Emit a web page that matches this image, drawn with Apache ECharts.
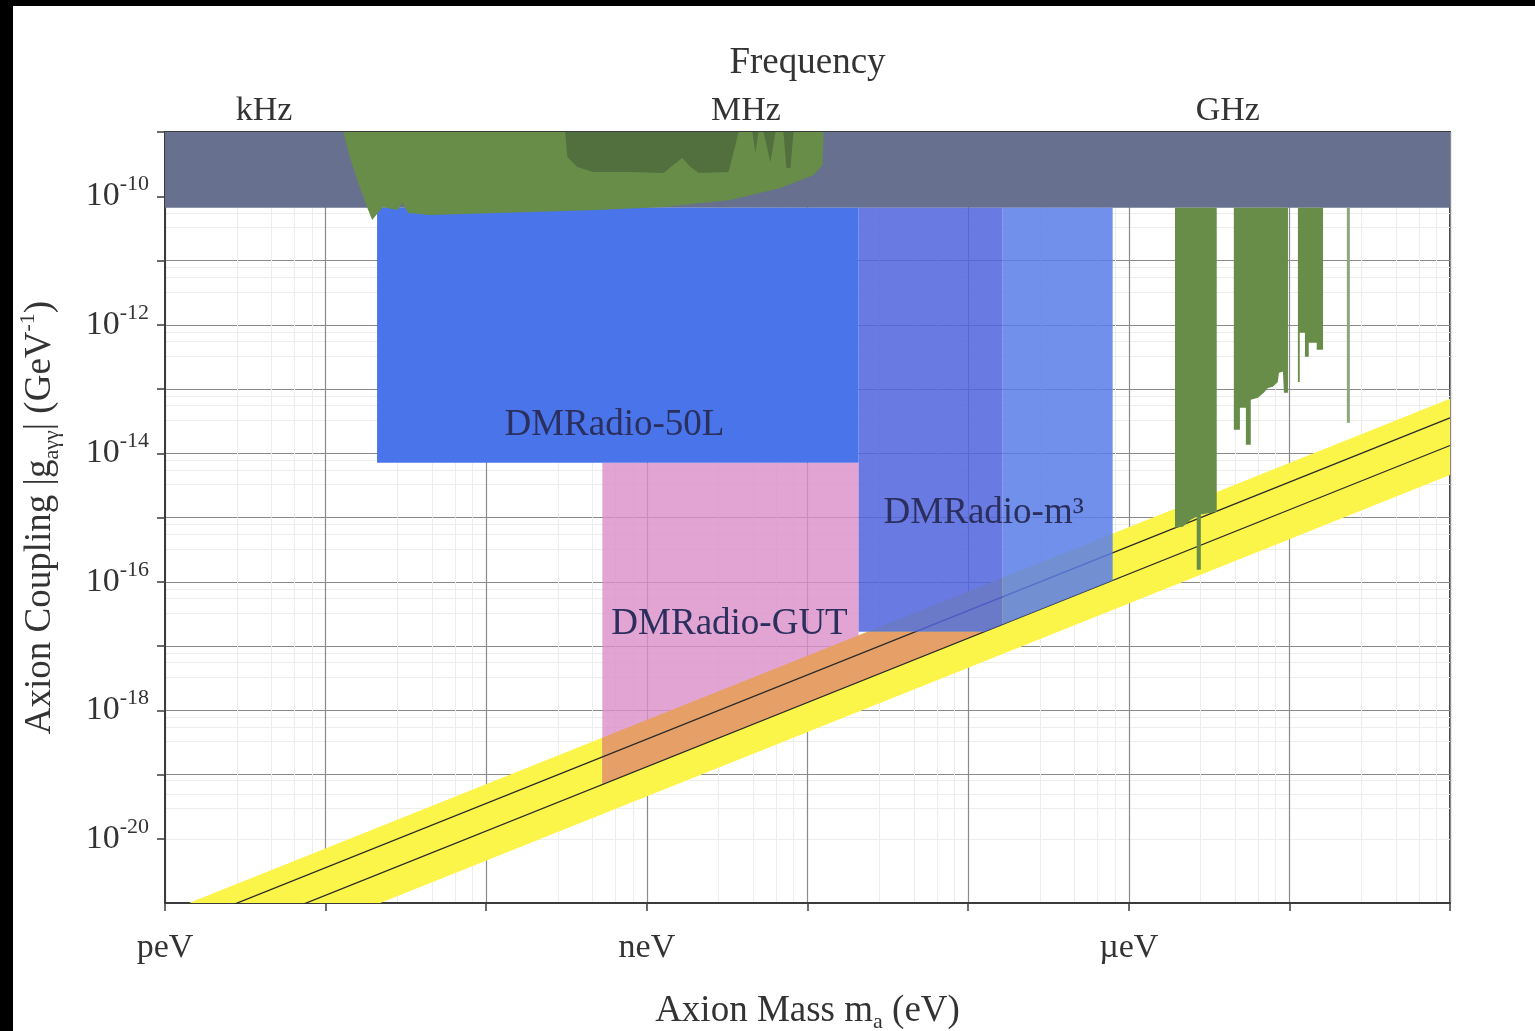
<!DOCTYPE html>
<html>
<head>
<meta charset="utf-8">
<script src="https://cdn.jsdelivr.net/npm/echarts@6/dist/echarts.min.js"></script>
<style>
  html, body { margin: 0; padding: 0; background: #000; }
  #chart { position: absolute; left: 13px; top: 6px; width: 1522px; height: 1025px; background: #fff; }
</style>
</head>
<body>
<div id="chart"></div>
<script>
// ---------- data (axion mass in eV, coupling in GeV^-1) ----------
const massTickExp = [-12, -9, -6];
const massTickLabels = ['peV', 'neV', 'µeV'];
const freqTickLog = [3, 6, 9];            // log10(frequency / Hz)
const freqTickLabels = ['kHz', 'MHz', 'GHz'];
const couplingTickExp = [-10, -12, -14, -16, -18, -20];

const castLimit = [[1e-12, 1e-9], [1e-4, 1e-9], [1e-4, 6.6e-11], [1e-12, 6.6e-11]];

const qcdBand = [[1e-12, 7.08e-22], [1e-4, 7.08e-14], [1e-4, 4.57e-15], [1e-12, 4.57e-23]];
const ksvzLine = [[1e-12, 3.55e-22], [1e-4, 3.55e-14]];
const dfszLine = [[1e-12, 1.32e-22], [1e-4, 1.32e-14]];

const dmradio50L = [[2.09e-11, 6.6e-11], [2.08e-8, 6.6e-11], [2.08e-8, 7.11e-15], [2.09e-11, 7.11e-15]];
const dmradioGUT = [[5.28e-10, 7.11e-15], [2.08e-8, 7.11e-15], [2.08e-8, 2.74e-18], [5.28e-10, 6.97e-20]];
const gutInBand = [[5.28e-10, 3.74e-19], [2.37e-8, 1.67e-17], [1.27e-7, 1.67e-17], [5.28e-10, 6.97e-20]];
const dmradioM3a = [[2.08e-8, 6.6e-11], [1.64e-7, 6.6e-11], [1.64e-7, 2.16e-17], [1.27e-7, 1.67e-17], [2.08e-8, 1.67e-17]];
const dmradioM3b = [[1.64e-7, 6.6e-11], [7.94e-7, 6.6e-11], [7.94e-7, 1.05e-16], [1.64e-7, 2.16e-17]];

const lowMassLimit = [
  [1.29e-11, 1e-9], [1.42e-11, 3.94e-10], [1.59e-11, 1.67e-10], [1.82e-11, 6.58e-11],
  [1.95e-11, 4.28e-11], [2.09e-11, 5.31e-11], [2.28e-11, 6.82e-11], [2.79e-11, 6.12e-11],
  [3.00e-11, 7.87e-11], [3.27e-11, 5.50e-11], [4.48e-11, 5.12e-11], [7.19e-11, 5.31e-11],
  [1.88e-10, 5.70e-11], [4.92e-10, 6.12e-11], [1.27e-9, 6.82e-11], [3.31e-9, 8.75e-11],
  [6.79e-9, 1.35e-10], [1.09e-8, 2.14e-10], [1.24e-8, 3.07e-10], [1.26e-8, 1e-9]
];
const lowMassLimitDark = [
  [3.10e-10, 1e-9], [3.20e-10, 4.08e-10], [3.69e-10, 2.86e-10], [4.65e-10, 2.39e-10],
  [7.88e-10, 2.39e-10], [1.27e-9, 2.30e-10], [1.46e-9, 3.07e-10], [1.66e-9, 3.94e-10],
  [1.87e-9, 2.86e-10], [2.10e-9, 2.30e-10], [3.22e-9, 2.39e-10], [3.56e-9, 6.28e-10],
  [3.72e-9, 1e-9], [4.54e-9, 1e-9], [4.74e-9, 4.71e-10], [4.95e-9, 1e-9],
  [5.32e-9, 1e-9], [5.87e-9, 3.41e-10], [6.32e-9, 1e-9], [7.08e-9, 1e-9],
  [7.40e-9, 2.75e-10], [7.83e-9, 2.75e-10], [8.18e-9, 1e-9]
];
const haloscopeA = [
  [1.94e-6, 6.6e-11], [1.94e-6, 6.93e-16], [2.17e-6, 7.19e-16], [2.43e-6, 9.24e-16],
  [2.65e-6, 1.03e-15], [2.65e-6, 1.54e-16], [2.81e-6, 1.54e-16], [2.81e-6, 1.11e-15],
  [3.53e-6, 1.23e-15], [3.53e-6, 6.6e-11]
];
const haloscopeB = [
  [4.51e-6, 6.6e-11], [4.51e-6, 2.32e-14], [4.92e-6, 2.32e-14], [4.92e-6, 5.11e-14],
  [5.36e-6, 5.11e-14], [5.36e-6, 1.36e-14], [5.75e-6, 1.36e-14], [5.75e-6, 6.79e-14],
  [6.37e-6, 7.30e-14], [6.93e-6, 8.73e-14], [7.35e-6, 1.04e-13], [7.89e-6, 1.08e-13],
  [8.47e-6, 1.29e-13], [8.61e-6, 1.79e-13], [9.12e-6, 1.85e-13], [9.25e-6, 8.73e-14],
  [9.80e-6, 8.73e-14], [9.80e-6, 6.6e-11]
];
const haloscopeC = [
  [1.13e-5, 6.6e-11], [1.13e-5, 1.29e-13], [1.16e-5, 1.29e-13], [1.16e-5, 7.48e-13],
  [1.25e-5, 7.48e-13], [1.25e-5, 3.17e-13], [1.32e-5, 3.17e-13], [1.32e-5, 5.24e-13],
  [1.48e-5, 5.24e-13], [1.48e-5, 4.07e-13], [1.62e-5, 4.07e-13], [1.62e-5, 6.6e-11]
];
const haloscopeD = [[2.28e-5, 6.6e-11], [2.38e-5, 6.6e-11], [2.38e-5, 2.98e-14], [2.28e-5, 2.98e-14]];

const regionLabelNames = ['DMRadio-50L', 'DMRadio-m³', 'DMRadio-GUT'];
const regionLabelPos = [[6.28e-10, 2.77e-14], [1.25e-7, 1.15e-15], [3.27e-9, 2.15e-17]];

// ---------- chart ----------
const FONT = 'Liberation Serif, DejaVu Serif, serif';
const TXT = '#333333';

function polygonSeries(name, pts, color, opacity, z) {
  return {
    type: 'custom', name: name, coordinateSystem: 'cartesian2d',
    xAxisIndex: 0, yAxisIndex: 0, data: pts, clip: true, z: z, silent: true,
    renderItem: function (params, api) {
      if (params.dataIndex !== 0) return null;
      const points = pts.map(p => api.coord(p));
      return { type: 'polygon', shape: { points: points }, style: { fill: color, opacity: opacity } };
    }
  };
}

const chart = echarts.init(document.getElementById('chart'), null, { renderer: 'canvas' });

const option = {
  backgroundColor: '#ffffff',
  animation: false,
  grid: { left: 152, right: 85, top: 126, bottom: 128, show: true, backgroundColor: '#ffffff',
          borderColor: '#3c3c3c', borderWidth: 2, containLabel: false, outerBoundsMode: 'none' },
  xAxis: [
    {
      type: 'log', logBase: 10, min: 1e-12, max: 1e-4, position: 'bottom', splitNumber: 8,
      axisLine: { show: true, lineStyle: { color: '#3c3c3c', width: 2 } },
      axisTick: { show: true, length: 8, lineStyle: { color: '#3c3c3c', width: 1.5 } },
      axisLabel: {
        margin: 28, fontFamily: FONT, fontSize: 34, color: TXT,
        formatter: function (v) {
          const e = Math.round(Math.log10(v));
          const i = massTickExp.indexOf(e);
          return i >= 0 ? massTickLabels[i] : '';
        }
      },
      splitLine: { show: true, lineStyle: { color: '#8a8a8a', width: 1.2 } },
      minorTick: { show: false, splitNumber: 5 },
      minorSplitLine: { show: true, lineStyle: { color: '#ededed', width: 1 } },
      name: 'Axion Mass m{sub|a} (eV)', nameLocation: 'middle', nameGap: 86, nameMoveOverlap: false,
      nameTextStyle: { fontFamily: FONT, fontSize: 37, color: TXT, lineHeight: 44,
        rich: { sub: { fontFamily: FONT, fontSize: 22, color: TXT, verticalAlign: 'bottom' } } }
    },
    {
      type: 'value', position: 'top', min: 2.3835, max: 10.3835,
      axisLine: { show: false }, axisTick: { show: false }, splitLine: { show: false },
      axisLabel: {
        show: true, customValues: freqTickLog, margin: 4, fontFamily: FONT, fontSize: 34, color: TXT,
        formatter: function (v) {
          const i = freqTickLog.indexOf(Math.round(v));
          return i >= 0 ? freqTickLabels[i] : '';
        }
      },
      name: 'Frequency', nameLocation: 'middle', nameGap: 50, nameMoveOverlap: false,
      nameTextStyle: { fontFamily: FONT, fontSize: 37, color: TXT }
    }
  ],
  yAxis: {
    type: 'log', logBase: 10, min: 1e-21, max: 1e-9, interval: 1,
    axisLine: { show: true, lineStyle: { color: '#3c3c3c', width: 2 } },
    axisTick: { show: true, length: 8, lineStyle: { color: '#3c3c3c', width: 1.5 } },
    axisLabel: {
      margin: 16, color: TXT,
      formatter: function (v) {
        const e = Math.round(Math.log10(v));
        return couplingTickExp.indexOf(e) >= 0 ? '{b|10}{s|' + e + '}' : '';
      },
      rich: {
        b: { fontFamily: FONT, fontSize: 34, color: TXT, lineHeight: 46 },
        s: { fontFamily: FONT, fontSize: 22, color: TXT, verticalAlign: 'top' }
      }
    },
    splitLine: { show: true, lineStyle: { color: '#8a8a8a', width: 1.2 } },
    minorTick: { show: false, splitNumber: 4 },
    minorSplitLine: { show: true, lineStyle: { color: '#ededed', width: 1 } },
    name: 'Axion Coupling |g{sub|aγγ}| (GeV{sup|-1})', nameLocation: 'middle', nameGap: 102, nameRotate: 90,
    nameMoveOverlap: false,
    nameTextStyle: { fontFamily: FONT, fontSize: 37, color: TXT, lineHeight: 46,
      rich: {
        sub: { fontFamily: FONT, fontSize: 22, color: TXT, verticalAlign: 'bottom' },
        sup: { fontFamily: FONT, fontSize: 22, color: TXT, verticalAlign: 'top' }
      } }
  },
  series: [
    polygonSeries('CAST', castLimit, '#67708e', 1, 1),
    polygonSeries('QCD band', qcdBand, '#fbf54a', 1, 2),
    polygonSeries('DMRadio-GUT', dmradioGUT, '#db8dc7', 0.8, 3),
    polygonSeries('GUT in band', gutInBand, '#e6a067', 1, 4),
    {
      type: 'line', name: 'KSVZ', data: ksvzLine, symbol: 'none', z: 5, silent: true,
      lineStyle: { color: '#2a2a2a', width: 1.3 }
    },
    {
      type: 'line', name: 'DFSZ', data: dfszLine, symbol: 'none', z: 5, silent: true,
      lineStyle: { color: '#2a2a2a', width: 1.3 }
    },
    polygonSeries('DMRadio-50L', dmradio50L, '#4a74ea', 1, 6),
    polygonSeries('DMRadio-m3 a', dmradioM3a, '#5063de', 0.85, 6),
    polygonSeries('DMRadio-m3 b', dmradioM3b, '#587de9', 0.85, 6),
    polygonSeries('low mass limit', lowMassLimit, '#678d48', 1, 7),
    polygonSeries('low mass limit dark', lowMassLimitDark, '#52703e', 1, 8),
    polygonSeries('haloscope A', haloscopeA, '#678d48', 1, 7),
    polygonSeries('haloscope B', haloscopeB, '#678d48', 1, 7),
    polygonSeries('haloscope C', haloscopeC, '#678d48', 1, 7),
    polygonSeries('haloscope D', haloscopeD, '#8aa878', 1, 7),
    {
      type: 'custom', name: 'labels', coordinateSystem: 'cartesian2d', z: 20, silent: true,
      data: regionLabelPos.map((p, i) => [p[0], p[1], i]),
      renderItem: function (params, api) {
        const pt = api.coord([api.value(0), api.value(1)]);
        return {
          type: 'text', x: pt[0], y: pt[1],
          style: { text: regionLabelNames[api.value(2)], fontFamily: FONT, fontSize: 37,
                   fill: '#2b2f5e', align: 'center', verticalAlign: 'middle' }
        };
      }
    }
  ]
};
chart.setOption(option);
</script>
</body>
</html>
